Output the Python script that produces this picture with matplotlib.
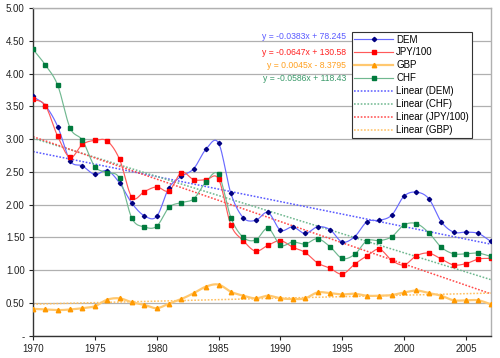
import numpy as np
import matplotlib
matplotlib.use("Agg")
import matplotlib.pyplot as plt
from matplotlib.lines import Line2D

plt.rcParams['font.family'] = ['Liberation Sans', 'DejaVu Sans']

years = list(range(1970, 2008))
dem = [3.65, 3.51, 3.19, 2.67, 2.59, 2.46, 2.52, 2.33, 2.02, 1.83,
       1.82, 2.26, 2.43, 2.55, 2.85, 2.94, 2.17, 1.80, 1.76, 1.88,
       1.61, 1.66, 1.56, 1.66, 1.62, 1.43, 1.51, 1.74, 1.76, 1.84,
       2.13, 2.19, 2.09, 1.74, 1.58, 1.58, 1.56, 1.44]
jpy = [3.61, 3.51, 3.04, 2.72, 2.92, 2.98, 2.97, 2.69, 2.11, 2.20,
       2.27, 2.21, 2.49, 2.38, 2.38, 2.39, 1.69, 1.45, 1.29, 1.38,
       1.45, 1.35, 1.27, 1.11, 1.03, 0.94, 1.09, 1.22, 1.32, 1.15,
       1.08, 1.22, 1.26, 1.17, 1.08, 1.10, 1.17, 1.18]
gbp = [0.41, 0.40, 0.39, 0.40, 0.42, 0.45, 0.55, 0.57, 0.51, 0.47,
       0.42, 0.49, 0.56, 0.65, 0.75, 0.78, 0.67, 0.61, 0.57, 0.61,
       0.57, 0.56, 0.57, 0.66, 0.65, 0.63, 0.64, 0.61, 0.61, 0.62,
       0.66, 0.69, 0.65, 0.61, 0.54, 0.54, 0.54, 0.48]
chf = [4.37, 4.13, 3.82, 3.17, 2.98, 2.58, 2.49, 2.40, 1.79, 1.66,
       1.67, 1.96, 2.03, 2.09, 2.35, 2.46, 1.80, 1.50, 1.46, 1.64,
       1.38, 1.43, 1.40, 1.48, 1.36, 1.18, 1.24, 1.45, 1.45, 1.51,
       1.69, 1.71, 1.57, 1.35, 1.25, 1.25, 1.26, 1.21]

equations = {
    'DEM': 'y = -0.0383x + 78.245',
    'JPY/100': 'y = -0.0647x + 130.58',
    'GBP': 'y = 0.0045x - 8.3795',
    'CHF': 'y = -0.0586x + 118.43',
}
yticks = [0, 0.5, 1.0, 1.5, 2.0, 2.5, 3.0, 3.5, 4.0, 4.5, 5.0]
ytick_labels = ['-', '0.50', '1.00', '1.50', '2.00', '2.50', '3.00', '3.50', '4.00', '4.50', '5.00']
xticks = [1970, 1975, 1980, 1985, 1990, 1995, 2000, 2005]


def smooth(x, y, n=12):
    x = np.asarray(x, float)
    y = np.asarray(y, float)
    px = np.concatenate([[2 * x[0] - x[1]], x, [2 * x[-1] - x[-2]]])
    py = np.concatenate([[2 * y[0] - y[1]], y, [2 * y[-1] - y[-2]]])
    xs, ys = [], []
    t = np.linspace(0, 1, n, endpoint=False)
    for i in range(1, len(px) - 2):
        for p, out in ((px, xs), (py, ys)):
            p0, p1, p2, p3 = p[i - 1], p[i], p[i + 1], p[i + 2]
            v = 0.5 * ((2 * p1) + (-p0 + p2) * t + (2 * p0 - 5 * p1 + 4 * p2 - p3) * t ** 2
                       + (-p0 + 3 * p1 - 3 * p2 + p3) * t ** 3)
            out.extend(v)
    xs.append(x[-1]); ys.append(y[-1])
    return np.array(xs), np.array(ys)


fig = plt.figure(figsize=(5.0, 3.58), dpi=100)
ax = fig.add_axes([0.066, 0.0623, 0.9154, 0.9153])

series = [
    ('DEM', dem, '#6a6aff', '#000080', 'D', 2.2, 0.85),
    ('JPY/100', jpy, '#ff5a5a', '#ff0000', 's', 3.0, 0.85),
    ('GBP', gbp, '#ffc870', '#ff9900', '^', 3.2, 1.6),
    ('CHF', chf, '#70b890', '#007a3d', 's', 2.2, 0.85),
]
trend_colors = {'DEM': '#5a5aff', 'CHF': '#70b890', 'JPY/100': '#ff4a4a', 'GBP': '#ffc060'}

handles = []
for name, vals, lc, mc, mk, ms, lw in series:
    sx, sy = smooth(years, vals)
    ax.plot(sx, sy, color=lc, lw=lw, zorder=3)
    ax.plot(years, vals, ls='none', marker=mk, ms=ms, color=mc, mec=mc, zorder=4)
    handles.append(Line2D([], [], color=lc, lw=lw, marker=mk, ms=ms, mfc=mc, mec=mc))

yr = np.array(years, float)
trend_order = [('DEM', dem), ('CHF', chf), ('JPY/100', jpy), ('GBP', gbp)]
for name, vals in trend_order:
    k, b = np.polyfit(yr, np.array(vals), 1)
    ax.plot(yr, k * yr + b, color=trend_colors[name], lw=1.1, ls=(0, (1.1, 1.1)), zorder=2)
    handles.append(Line2D([], [], color=trend_colors[name], lw=1.1, ls=(0, (1.1, 1.1))))

labels = ['DEM', 'JPY/100', 'GBP', 'CHF', 'Linear (DEM)', 'Linear (CHF)',
          'Linear (JPY/100)', 'Linear (GBP)']
leg = ax.legend(handles, labels, loc='upper left', bbox_to_anchor=(0.696, 0.928),
                borderaxespad=0, fontsize=7, handlelength=4.0, handletextpad=0.3,
                labelspacing=0.3, borderpad=0.3, fancybox=False, framealpha=1,
                edgecolor='#333333')
leg.get_frame().set_linewidth(0.8)
leg.set_zorder(6)

eq_pos = [('DEM', '#5a5aff', 36.3), ('JPY/100', '#ff2020', 52.0),
          ('GBP', '#ffa020', 65.3), ('CHF', '#3a9a6a', 78.7)]
for name, col, py in eq_pos:
    xa = (346 - 33) / (490.7 - 33)
    ya = (335.7 - py) / 327.7
    ax.text(xa, ya, equations[name], transform=ax.transAxes, ha='right', va='center',
            fontsize=6.2, color=col, zorder=5)

ax.set_xlim(1970, 2007)
ax.set_ylim(0, 5.0)
ax.set_yticks(yticks)
ax.set_yticklabels(ytick_labels)
ax.set_xticks(xticks)
ax.tick_params(axis='both', labelsize=7, colors='#222222', length=3, width=0.8, pad=3)
ax.yaxis.grid(True, color='#b0b0b0', lw=0.9)
ax.set_axisbelow(True)
for s in ['left', 'bottom']:
    ax.spines[s].set_color('#333333')
    ax.spines[s].set_linewidth(1.0)
for s in ['right', 'top']:
    ax.spines[s].set_color('#b0b0b0')
    ax.spines[s].set_linewidth(1.0)

fig.savefig('out.png', dpi=100)
